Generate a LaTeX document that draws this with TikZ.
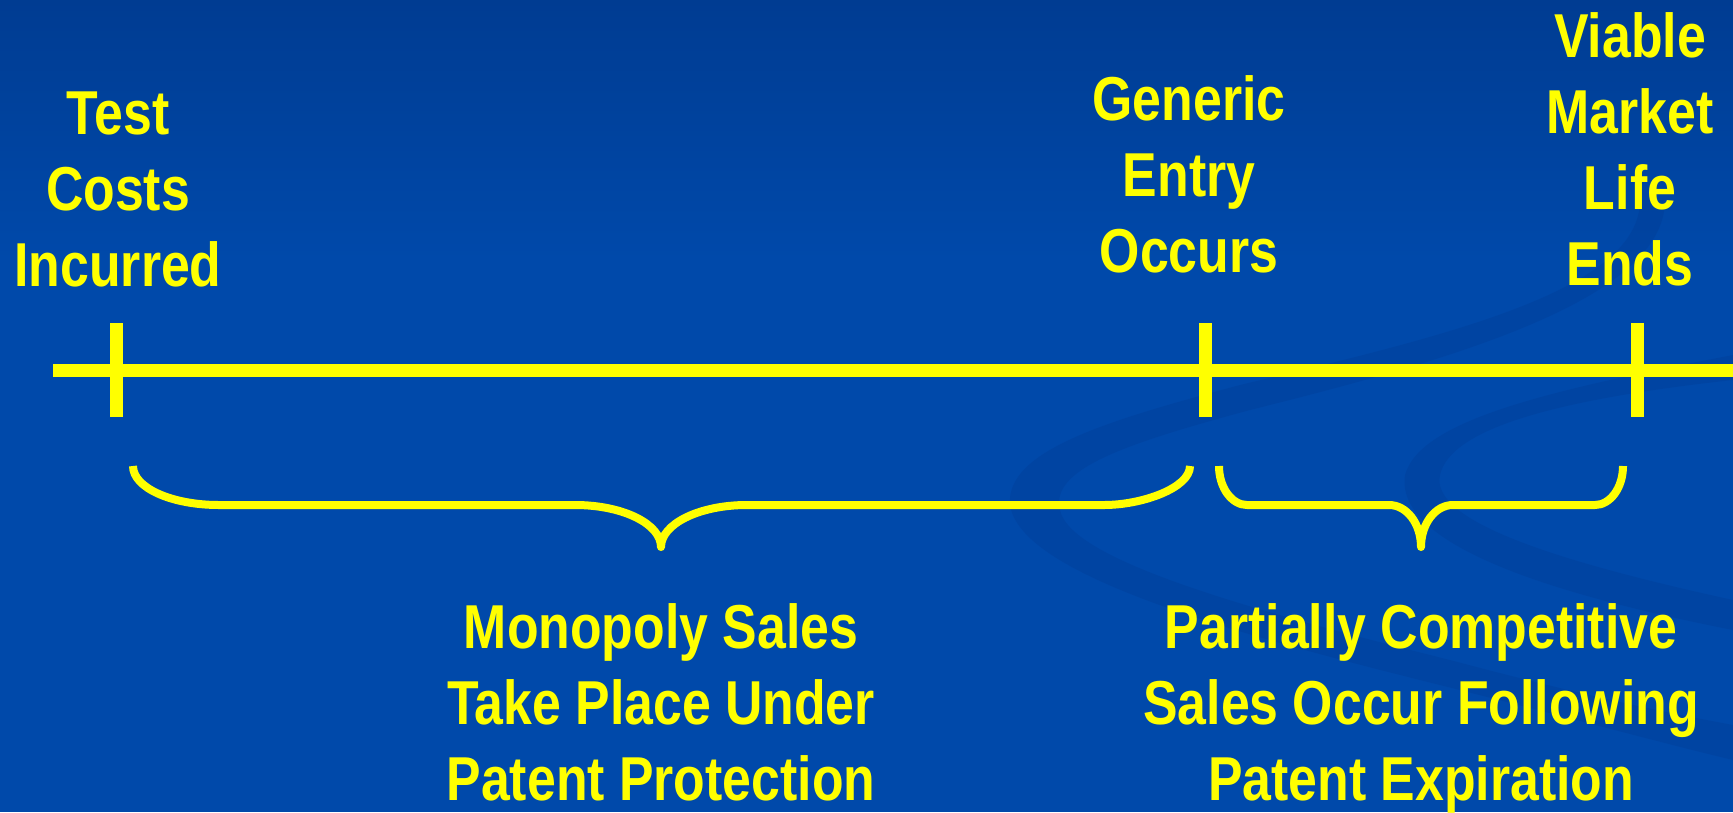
\documentclass[tikz,border=0pt]{standalone}
\usepackage{fontspec}
\setmainfont{Liberation Sans}[FakeStretch=0.835]
\usetikzlibrary{positioning}

\definecolor{slideblue}{RGB}{0,73,170}
\definecolor{slidetop}{RGB}{0,60,146}
\definecolor{swirl}{RGB}{0,52,135}
\definecolor{marker}{RGB}{255,255,0}

\tikzset{
	event/.style={font=\fontsize{35.3pt}{43.3pt}\selectfont\bfseries,text=marker,align=center,inner sep=0pt,anchor=north},
	timeline/.style={draw=marker,line width=0.26cm},
	tickmark/.style={draw=marker,line width=0.26cm},
	bracepath/.style={draw=marker,line width=0.16cm,line join=round}
}

\begin{document}
\begin{tikzpicture}[x=0.02cm,y=-0.02cm]
% slide background
\fill[slideblue]	(0,0) rectangle (1733,812);
\shade[top color=slidetop,bottom color=slideblue]	(0,0) rectangle (1733,260);
\fill[swirl,opacity=0.22]	(1665,200) .. controls (1665,300) and (1450,360) .. (1250,410)
			.. controls (1120,445) and (1050,470) .. (1060,510)
			.. controls (1070,560) and (1250,610) .. (1450,660)
			.. controls (1600,700) and (1680,715) .. (1733,725)
			-- (1733,760) .. controls (1650,740) and (1560,715) .. (1420,680)
			.. controls (1200,625) and (1020,570) .. (1010,505)
			.. controls (1005,450) and (1110,420) .. (1240,385)
			.. controls (1450,335) and (1640,290) .. (1640,200) -- cycle;
\fill[swirl,opacity=0.22]	(1733,380) .. controls (1550,400) and (1450,430) .. (1440,475)
			.. controls (1430,520) and (1550,560) .. (1733,600)
			-- (1733,630) .. controls (1530,590) and (1395,540) .. (1405,475)
			.. controls (1420,420) and (1550,390) .. (1733,355) -- cycle;
\useasboundingbox	(0,0) rectangle (1733,812);

% time line with its three marks
\coordinate	(start)		at (53,370);
\coordinate	(finish)	at (1733,370);
\draw[timeline]	(start) -- (finish);
\foreach \x in {116,1205,1637}
	\draw[tickmark] (\x,323) -- (\x,417);

\node[event]	(e_0)	at (118,91)	{Test\\Costs\\Incurred};
\node[event]	(e_1)	at (1189,75)	{Generic\\Entry\\Occurs};
\node[event]	(e_2)	at (1630,12)	{Viable\\Market\\Life\\Ends};

% braces under the two periods
\draw[bracepath]	(133,466) .. controls (133,488) and (172,505) .. (219,505) -- (575,505)
			.. controls (623,505) and (661,524) .. (661,547)
			.. controls (661,524) and (699,505) .. (747,505) -- (1104,505)
			.. controls (1142,505) and (1190,488) .. (1190,466);
\draw[bracepath]	(1219,466) .. controls (1219,488) and (1232,505) .. (1247,505) -- (1389,505)
			.. controls (1407,505) and (1421,524) .. (1421,547)
			.. controls (1421,524) and (1435,505) .. (1453,505) -- (1595,505)
			.. controls (1610,505) and (1623,488) .. (1623,466);

\node[event]	(p_0)	at (661,603)	{Monopoly Sales\\Take Place Under\\Patent Protection};
\node[event]	(p_1)	at (1421,603)	{Partially Competitive\\Sales Occur Following\\Patent Expiration};
\end{tikzpicture}
\end{document}
